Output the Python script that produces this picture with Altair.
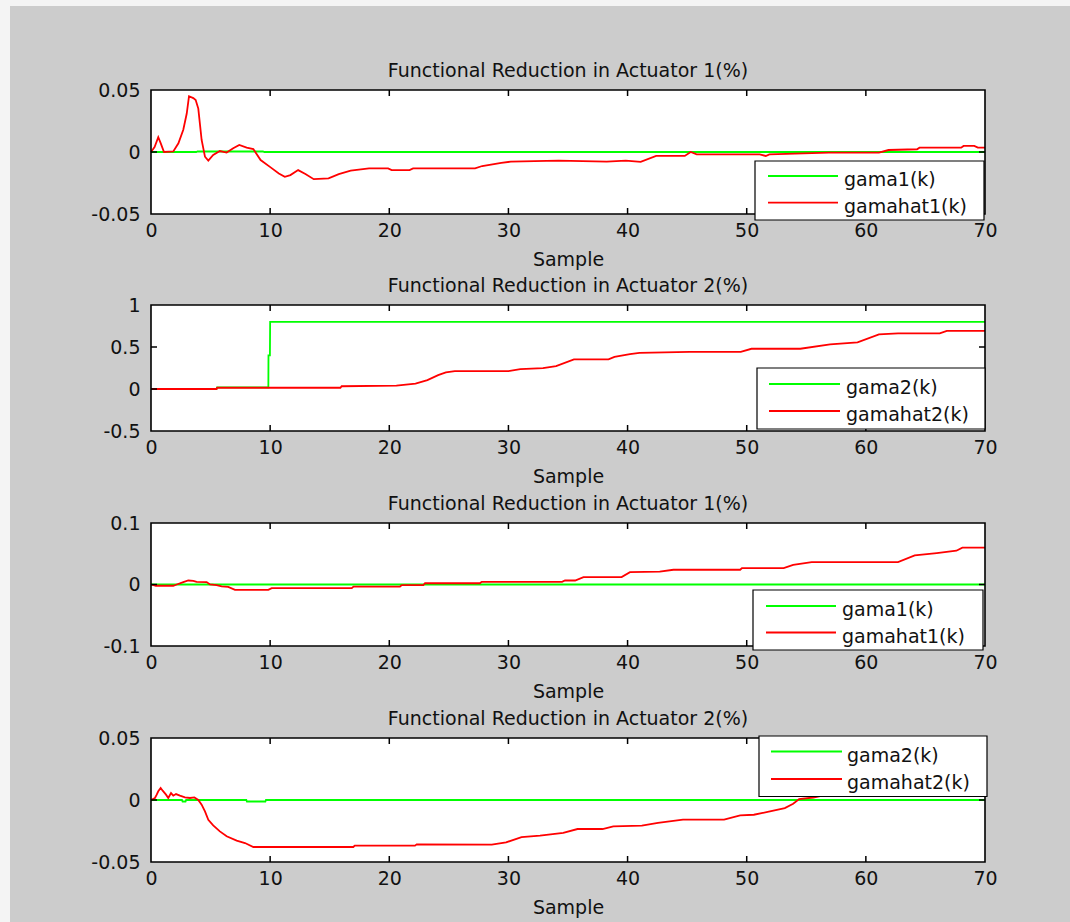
import altair as alt
import pandas as pd

# ---------------- data ----------------
X_MAX = 70
X_TICK_LABELS = [0, 10, 20, 30, 40, 50, 60, 70]
X_INNER_TICKS = [10, 20, 30, 40, 50, 60]
X_TITLE = "Sample"

TITLES = [
    "Functional Reduction in Actuator 1(%)",
    "Functional Reduction in Actuator 2(%)",
    "Functional Reduction in Actuator 1(%)",
    "Functional Reduction in Actuator 2(%)",
]
LEGENDS = [
    ["gama1(k)", "gamahat1(k)"],
    ["gama2(k)", "gamahat2(k)"],
    ["gama1(k)", "gamahat1(k)"],
    ["gama2(k)", "gamahat2(k)"],
]
Y_DOMAINS = [[-0.05, 0.05], [-0.5, 1], [-0.1, 0.1], [-0.05, 0.05]]
Y_TICK_LABELS = [[-0.05, 0, 0.05], [-0.5, 0, 0.5, 1], [-0.1, 0, 0.1], [-0.05, 0, 0.05]]
Y_INNER_TICKS = [[0], [0, 0.5], [0], [0]]

# panel 1
p1_green_x = [0, 3.8, 3.9, 9.4, 9.5, 70]
p1_green_y = [0, 0, 0.0004, 0.0004, 0, 0]
p1_red_x = [0, 0.3, 0.61, 0.82, 1.09, 1.87, 2.3, 2.71, 3.0, 3.19, 3.55, 3.75, 3.97, 4.25, 4.53,
            4.81, 5.22, 5.78, 6.35, 6.9, 7.41, 8.03, 8.59, 9.2, 10.04, 10.73, 11.23, 11.7, 12.35,
            12.96, 13.66, 14.9, 15.76, 16.76, 18.3, 19.9, 20.2, 21.7, 22.0, 27.2, 27.8, 29.4, 30.2,
            34.2, 38.25, 39.85, 41.1, 42.4, 44.8, 45.3, 45.8, 51.1, 51.6, 51.9, 56.9, 61.1, 61.9,
            64.3, 64.5, 68.0, 68.2, 69.1, 69.4, 70]
p1_red_y = [0, 0.004, 0.012, 0.007, 0.0, 0.0005, 0.007, 0.018, 0.031, 0.045, 0.0435, 0.042, 0.035,
            0.0097, -0.0038, -0.007, -0.0024, 0.0008, -0.0005, 0.003, 0.0057, 0.0035, 0.0024,
            -0.0065, -0.0124, -0.0173, -0.02, -0.0186, -0.0146, -0.0178, -0.0219, -0.0213, -0.0178,
            -0.0151, -0.0132, -0.0132, -0.0146, -0.0146, -0.0132, -0.0132, -0.0113, -0.0087,
            -0.0078, -0.007, -0.0078, -0.007, -0.008, -0.0032, -0.0032, 0.0, -0.0019, -0.0019,
            -0.0032, -0.0019, -0.0005, -0.0005, 0.0016, 0.0022, 0.0035, 0.0035, 0.0049, 0.0049,
            0.0035, 0.0035]

# panel 2
p2_green_x = [0, 5.5, 5.55, 9.85, 9.86, 9.98, 10.0, 70]
p2_green_y = [0, 0, 0.02, 0.02, 0.4, 0.4, 0.8, 0.8]
p2_red_x = [0, 5.5, 5.55, 15.9, 16.0, 20.6, 22.2, 23.2, 24.1, 24.75, 25.5, 30.0, 31.0, 32.9, 34.0,
            35.5, 38.4, 38.9, 40.2, 41.0, 45.2, 49.5, 50.4, 54.5, 57.0, 59.3, 61.1, 62.7, 66.2,
            66.8, 69.25, 70]
p2_red_y = [0, 0, 0.015, 0.015, 0.033, 0.04, 0.065, 0.105, 0.165, 0.197, 0.212, 0.212, 0.236,
            0.248, 0.272, 0.352, 0.352, 0.383, 0.415, 0.431, 0.443, 0.443, 0.479, 0.479, 0.531,
            0.555, 0.65, 0.662, 0.662, 0.693, 0.693, 0.693]

# panel 3
p3_green_x = [0, 70]
p3_green_y = [0, 0]
p3_red_x = [0, 0.4, 1.87, 2.16, 2.71, 3.13, 3.55, 3.83, 4.67, 4.95, 5.5, 5.93, 6.48, 7.05, 9.85,
            10.13, 16.85, 17.0, 20.9, 21.05, 22.86, 23.0, 27.6, 27.76, 34.5, 34.75, 35.6, 36.3,
            39.5, 40.2, 42.7, 43.85, 49.45, 49.6, 53.1, 53.9, 55.45, 62.7, 64.1, 65.95, 67.6,
            68.1, 70]
p3_red_y = [0, -0.002, -0.002, 0, 0.004, 0.0065, 0.006, 0.0044, 0.004, 0, -0.001, -0.003, -0.004,
            -0.0087, -0.0087, -0.006, -0.006, -0.0033, -0.0033, -0.001, -0.001, 0.002, 0.002,
            0.0044, 0.0044, 0.0065, 0.0065, 0.012, 0.012, 0.02, 0.021, 0.024, 0.024, 0.0267,
            0.0267, 0.032, 0.0365, 0.0365, 0.0473, 0.051, 0.055, 0.06, 0.06]

# panel 4
p4_green_x = [0, 2.6, 2.65, 2.9, 2.95, 8.0, 8.05, 9.6, 9.65, 70]
p4_green_y = [0, 0, -0.0012, -0.0012, 0, 0, -0.0012, -0.0012, 0, 0]
p4_red_x = [0, 0.33, 0.48, 0.61, 0.81, 0.98, 1.26, 1.45, 1.68, 1.87, 2.1, 2.43, 2.85, 3.27, 3.64,
            3.97, 4.25, 4.53, 4.81, 5.22, 5.78, 6.35, 7.19, 7.89, 8.59, 16.98, 17.1, 22.16, 22.3,
            28.6, 29.8, 31.1, 32.65, 34.6, 35.8, 37.9, 38.8, 41.2, 42.55, 44.65, 48.1, 49.45,
            50.6, 51.95, 53.2, 53.9, 54.4, 55.6, 57.0, 60.0, 64.0, 70]
p4_red_y = [0, 0.0016, 0.0043, 0.007, 0.0097, 0.0075, 0.0043, 0.0016, 0.0056, 0.0035, 0.0048,
            0.0035, 0.0021, 0.0016, 0.0021, 0, -0.0038, -0.0092, -0.0159, -0.0205, -0.0253,
            -0.0293, -0.0328, -0.0347, -0.0379, -0.0379, -0.0368, -0.0368, -0.0358, -0.036,
            -0.0342, -0.0299, -0.0288, -0.0266, -0.0234, -0.0234, -0.0213, -0.0207, -0.0185,
            -0.0159, -0.0159, -0.0124, -0.0119, -0.0092, -0.0065, -0.003, 0.0008, 0.002, 0.005,
            0.008, 0.011, 0.014]

GREEN_X = [p1_green_x, p2_green_x, p3_green_x, p4_green_x]
GREEN_Y = [p1_green_y, p2_green_y, p3_green_y, p4_green_y]
RED_X = [p1_red_x, p2_red_x, p3_red_x, p4_red_x]
RED_Y = [p1_red_y, p2_red_y, p3_red_y, p4_red_y]

# ---------------- layout / style ----------------
FONT = "DejaVu Sans"
FS = 19
TXT = "#111111"
GREEN = "#00ff00"
RED = "#ff0000"
LW = 1.8
W = 834
HEIGHTS = [124, 126, 123, 124]
PLOT_LEFT = 151
CANVAS_W = 1070
TICK = 6
# vertical band of each panel (relative to its plot top); bands stack to the full 922 px
BANDS = [(-90, 182), (-33, 184), (-34, 182), (-33, 184)]
# legend geometry relative to plot origin: box x1,x2,y1,y2 ; line x1,x2 ; line y (first, second) ; text x
LEG_BOX = [(604, 833, 71, 130), (606, 834, 63, 124), (602, 832, 67, 127), (608, 836, -2, 58.5)]
LEG_LINE_X = [(617, 687), (618, 689), (615, 685), (620, 691)]
LEG_LINE_Y = [(86, 112.7), (79, 106), (83, 109.5), (13.5, 41)]
LEG_TEXT_X = [693, 695, 691, 696]

one = pd.DataFrame({"k": [0]})


def make_panel(i):
    H = HEIGHTS[i]
    xs = alt.Scale(domain=[0, X_MAX], nice=False, zero=False)
    ys = alt.Scale(domain=Y_DOMAINS[i], nice=False, zero=False)
    xaxis = alt.Axis(values=X_TICK_LABELS, title=X_TITLE, domain=False, ticks=False, grid=False,
                     labelFont=FONT, labelFontSize=FS, labelColor=TXT, labelPadding=7,
                     labelFlush=False, labelOverlap=False, format="d",
                     titleFont=FONT, titleFontSize=FS, titleFontWeight="normal",
                     titleColor=TXT, titlePadding=10)
    yaxis = alt.Axis(values=Y_TICK_LABELS[i], title=None, domain=False, ticks=False, grid=False,
                     labelFont=FONT, labelFontSize=FS, labelColor=TXT, labelPadding=11,
                     labelFlush=False, labelOverlap=False,
                     labelExpr="datum.value < 0 ? '-' + format(-datum.value, '~g') : format(datum.value, '~g')")

    def X():
        return alt.X("x:Q", scale=xs, axis=xaxis)

    def Y():
        return alt.Y("v:Q", scale=ys, axis=yaxis)

    b0, b1 = BANDS[i]
    band = alt.Chart(one).mark_rect(opacity=0).encode(
        x=alt.value(-PLOT_LEFT), x2=alt.value(CANVAS_W - PLOT_LEFT),
        y=alt.value(b0), y2=alt.value(b1))
    strip = alt.Chart(one).mark_rect(color="#f4f4f4").encode(
        x=alt.value(-PLOT_LEFT), x2=alt.value(-PLOT_LEFT + 10),
        y=alt.value(b0), y2=alt.value(b1))
    layers = [band, strip]
    if i == 0:
        layers.append(alt.Chart(one).mark_rect(color="#f4f4f4").encode(
            x=alt.value(-PLOT_LEFT), x2=alt.value(CANVAS_W - PLOT_LEFT),
            y=alt.value(b0), y2=alt.value(b0 + 6)))

    green = alt.Chart(pd.DataFrame({"x": GREEN_X[i], "v": GREEN_Y[i]})).mark_line(
        color=GREEN, strokeWidth=LW).encode(x=X(), y=Y())
    red = alt.Chart(pd.DataFrame({"x": RED_X[i], "v": RED_Y[i]})).mark_line(
        color=RED, strokeWidth=LW).encode(x=X(), y=Y())
    layers += [green, red]

    # axes box
    layers.append(alt.Chart(one).mark_rect(fillOpacity=0, stroke="black", strokeWidth=1.6).encode(
        x=alt.value(0), x2=alt.value(W), y=alt.value(0), y2=alt.value(H)))

    xt = pd.DataFrame({"x": X_INNER_TICKS})
    yt = pd.DataFrame({"v": Y_INNER_TICKS[i]})
    rule = dict(color="black", strokeWidth=1.5)
    layers += [
        alt.Chart(xt).mark_rule(**rule).encode(x=X(), y=alt.value(0), y2=alt.value(TICK)),
        alt.Chart(xt).mark_rule(**rule).encode(x=X(), y=alt.value(H - TICK), y2=alt.value(H)),
        alt.Chart(yt).mark_rule(**rule).encode(y=Y(), x=alt.value(0), x2=alt.value(TICK)),
        alt.Chart(yt).mark_rule(**rule).encode(y=Y(), x=alt.value(W - TICK), x2=alt.value(W)),
    ]

    bx1, bx2, by1, by2 = LEG_BOX[i]
    lx1, lx2 = LEG_LINE_X[i]
    ly1, ly2 = LEG_LINE_Y[i]
    layers.append(alt.Chart(one).mark_rect(fill="white", stroke="black", strokeWidth=1.2).encode(
        x=alt.value(bx1), x2=alt.value(bx2), y=alt.value(by1), y2=alt.value(by2)))
    for ly, col, lab in [(ly1, GREEN, LEGENDS[i][0]), (ly2, RED, LEGENDS[i][1])]:
        layers.append(alt.Chart(one).mark_rule(color=col, strokeWidth=LW).encode(
            x=alt.value(lx1), x2=alt.value(lx2), y=alt.value(ly)))
        layers.append(alt.Chart(pd.DataFrame({"t": [lab]})).mark_text(
            font=FONT, fontSize=FS, color=TXT, align="left", baseline="alphabetic").encode(
            text="t:N", x=alt.value(LEG_TEXT_X[i]), y=alt.value(ly + 10)))

    layers.append(alt.Chart(pd.DataFrame({"t": [TITLES[i]]})).mark_text(
        font=FONT, fontSize=FS, color=TXT, align="center", baseline="alphabetic").encode(
        text="t:N", x=alt.value(W / 2), y=alt.value(-13)))

    return alt.layer(*layers).properties(width=W, height=H)


panels = [make_panel(i) for i in range(4)]

chart = alt.vconcat(*panels, spacing=0, padding=0, background="#cccccc").resolve_scale(
    x="independent", y="independent"
).configure_view(strokeWidth=0, strokeOpacity=0, fill="white")

chart.save("out.html", embed_options={"renderer": "svg", "actions": False})
